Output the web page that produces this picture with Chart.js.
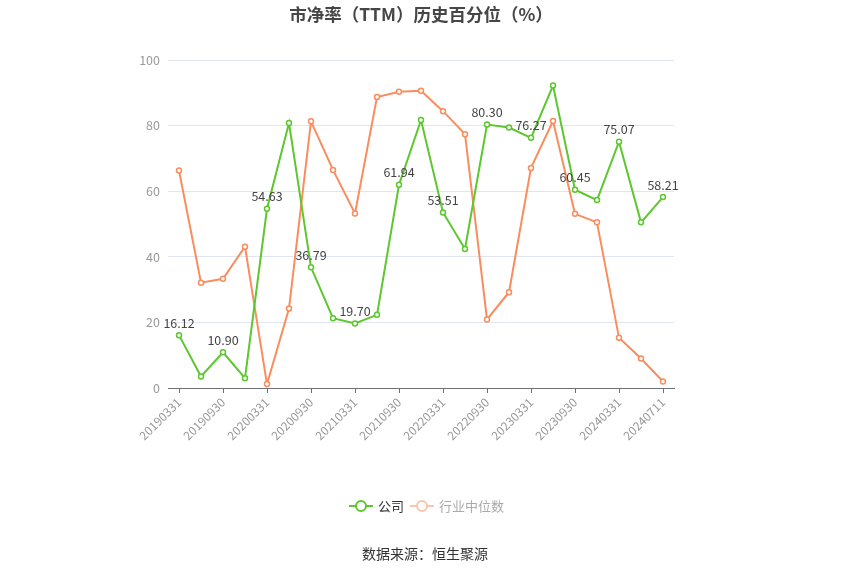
<!DOCTYPE html>
<html>
<head>
<meta charset="utf-8">
<script src="https://cdn.jsdelivr.net/npm/chart.js@4.4.1/dist/chart.umd.min.js"></script>
<style>
  html, body { margin: 0; padding: 0; background: #fff; }
  #wrap { width: 850px; height: 575px; }
</style>
</head>
<body>
<div id="wrap"><canvas id="chart" width="850" height="575"></canvas></div>
<script>
const dates = [
  "20190331", "20190630", "20190930", "20191231",
  "20200331", "20200630", "20200930", "20201231",
  "20210331", "20210630", "20210930", "20211231",
  "20220331", "20220630", "20220930", "20221231",
  "20230331", "20230630", "20230930", "20231231",
  "20240331", "20240630", "20240711",
];
const companyPct = [
  16.12, 3.5, 10.90, 3.0, 54.63, 80.8, 36.79, 21.3, 19.70, 22.3, 61.94, 81.7,
  53.51, 42.4, 80.30, 79.4, 76.27, 92.2, 60.45, 57.3, 75.07, 50.5, 58.21,
];
const industryPct = [
  66.3, 32.1, 33.3, 43.1, 1.2, 24.2, 81.3, 66.5, 53.2, 88.7, 90.3, 90.6,
  84.4, 77.4, 20.9, 29.2, 67.1, 81.4, 53.1, 50.5, 15.3, 9.0, 2.0,
];
const yTicks = [0, 20, 40, 60, 80, 100];

const GREEN = "#5cc72e";
const ORANGE = "#f98d5e";
const FONT = "'Noto Sans CJK SC', 'Noto Sans', sans-serif";

// value labels on every other company point + title, legend, source
const extras = {
  id: "extras",
  afterDatasetsDraw: (chart) => {
    const ctx = chart.ctx;
    const meta = chart.getDatasetMeta(0);
    ctx.save();
    ctx.font = "12.5px " + FONT;
    ctx.fillStyle = "#444";
    ctx.textAlign = "center";
    ctx.textBaseline = "bottom";
    meta.data.forEach((pt, i) => {
      if (i % 2 === 0) {
        ctx.fillText(companyPct[i].toFixed(2), pt.x, pt.y - 6);
      }
    });
    ctx.restore();
  },
  afterDraw: (chart) => {
    const ctx = chart.ctx;
    ctx.save();
    // title
    ctx.font = "bold 17.5px " + FONT;
    ctx.fillStyle = "#464646";
    ctx.textAlign = "center";
    ctx.textBaseline = "middle";
    ctx.fillText("市净率（TTM）历史百分位（%）", 421, 14);

    // legend
    const ly = 506;
    const items = [
      { x: 349, color: GREEN, text: "公司", textColor: "#333" },
      { x: 410, color: "#fcc4ad", text: "行业中位数", textColor: "#aaa" },
    ];
    ctx.font = "13px " + FONT;
    ctx.textAlign = "left";
    items.forEach((it) => {
      ctx.strokeStyle = it.color;
      ctx.lineWidth = 2;
      ctx.beginPath();
      ctx.moveTo(it.x, ly);
      ctx.lineTo(it.x + 24, ly);
      ctx.stroke();
      ctx.beginPath();
      ctx.arc(it.x + 12, ly, 5, 0, Math.PI * 2);
      ctx.fillStyle = "#fff";
      ctx.fill();
      ctx.stroke();
      ctx.fillStyle = it.textColor;
      ctx.fillText(it.text, it.x + 29, ly);
    });

    // source
    ctx.font = "14px " + FONT;
    ctx.fillStyle = "#333";
    ctx.textAlign = "center";
    ctx.fillText("数据来源：恒生聚源", 425, 554);
    ctx.restore();
  },
};

new Chart("chart", {
  type: "line",
  data: {
    labels: dates,
    datasets: [
      {
        label: "公司",
        data: companyPct,
        borderColor: GREEN,
        backgroundColor: "#fff",
        borderWidth: 2,
        pointRadius: 2.5,
        pointBorderWidth: 1.5,
        pointBackgroundColor: "#fff",
        pointBorderColor: GREEN,
        tension: 0,
      },
      {
        label: "行业中位数",
        data: industryPct,
        borderColor: ORANGE,
        backgroundColor: "#fff",
        borderWidth: 2,
        pointRadius: 2.5,
        pointBorderWidth: 1.5,
        pointBackgroundColor: "#fff",
        pointBorderColor: ORANGE,
        tension: 0,
      },
    ],
  },
  options: {
    responsive: false,
    animation: false,
    layout: { padding: { top: 60, right: 176, bottom: 0, left: 0 } },
    scales: {
      x: {
        offset: true,
        afterFit: (scale) => { scale.height = 187; },
        border: { display: true, color: "#6e7079", width: 1 },
        grid: {
          offset: false,
          drawOnChartArea: false,
          tickLength: 5,
          color: (c) => (c.index % 2 === 0 ? "#6e7079" : "rgba(0,0,0,0)"),
        },
        ticks: {
          autoSkip: false,
          maxRotation: 45,
          minRotation: 45,
          color: "#999",
          font: { size: 12, family: FONT },
          padding: 2,
          callback: (v, i) => (i % 2 === 0 ? dates[i] : ""),
        },
      },
      y: {
        min: 0,
        max: 100,
        afterFit: (scale) => { scale.width = 168; },
        afterBuildTicks: (scale) => { scale.ticks = yTicks.map((v) => ({ value: v })); },
        border: { display: false },
        grid: { color: "#e0e6f1", tickLength: 0, drawTicks: false },
        ticks: {
          color: "#999",
          font: { size: 12.5, family: FONT },
          padding: 8,
        },
      },
    },
    plugins: {
      legend: { display: false },
      title: { display: false },
      tooltip: { enabled: false },
    },
  },
  plugins: [extras],
});
</script>
</body>
</html>
